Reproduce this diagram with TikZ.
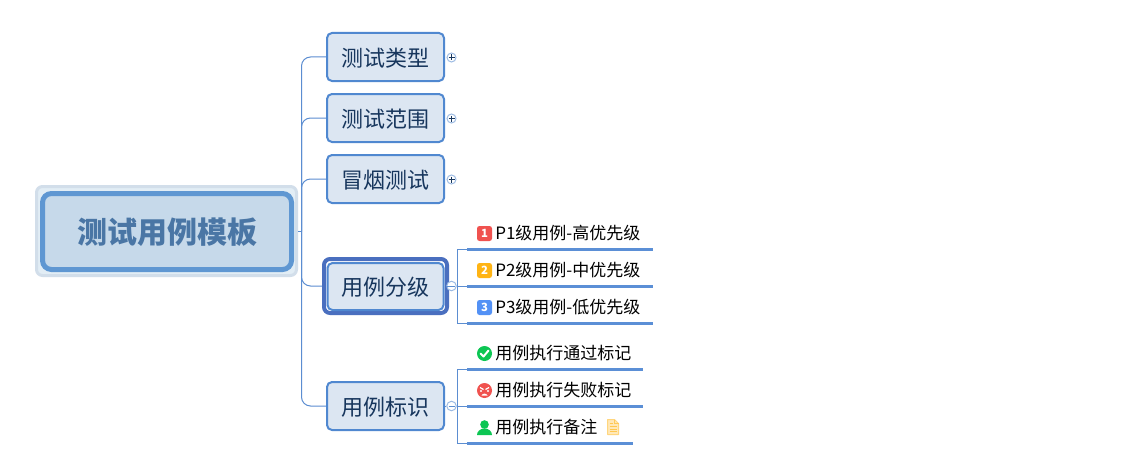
\documentclass[tikz,border=0pt]{standalone}
\usepackage{fontspec}
\setmainfont{Noto Sans CJK SC}
\def\pxu{0.75pt}
\newcommand{\lowtext}[1]{\raisebox{0pt}[\dimexpr\height+1.5pt\relax][\depth]{#1}}
\definecolor{topicfill}{HTML}{DCE6F2}
\definecolor{topicline}{HTML}{5088D0}
\definecolor{topictext}{HTML}{17365D}
\definecolor{rootfill}{HTML}{C6D9EA}
\definecolor{rootline}{HTML}{5F97D2}
\definecolor{roottext}{HTML}{4A76A5}
\definecolor{halofill}{HTML}{E2EDF5}
\definecolor{haloline}{HTML}{D2DEEA}
\definecolor{conn}{HTML}{5B8DD1}
\definecolor{selline}{HTML}{4A6FBF}
\definecolor{rulecol}{HTML}{5B8FD6}
\definecolor{btn}{HTML}{9DBBE3}
\definecolor{red1}{HTML}{F0524F}
\definecolor{amber}{HTML}{FFB414}
\definecolor{blue1}{HTML}{5391F5}
\definecolor{green1}{HTML}{0CC653}
\usetikzlibrary{calc}
\tikzset{
  x=0.75pt,y=-0.75pt,
  topic/.style={draw=topicline,fill=topicfill,line width=2*\pxu,rounded corners=5*\pxu,
    minimum width=117*\pxu,minimum height=48*\pxu,inner sep=0pt,text=topictext,
    font=\fontsize{16.5pt}{18pt}\selectfont},
  connector/.style={draw=conn,line width=1*\pxu},
  elbow/.style={connector,rounded corners=9*\pxu},
  subtext/.style={anchor=west,inner sep=0pt,text=black,font=\fontsize{12.75pt}{14pt}\selectfont},
  rulebar/.style={fill=rulecol,inner sep=0pt,minimum height=3*\pxu,anchor=west},
  plusbtn/.style={circle,draw=btn,fill=white,line width=1*\pxu,minimum size=9*\pxu,inner sep=0pt,
    path picture={\draw[topictext,line width=0.8*\pxu]
      ($(path picture bounding box.center)+(-3,0)$)--($(path picture bounding box.center)+(3,0)$)
      ($(path picture bounding box.center)+(0,-3)$)--($(path picture bounding box.center)+(0,3)$);}},
  minusbtn/.style={circle,draw=btn,fill=white,line width=1*\pxu,minimum size=9.5*\pxu,inner sep=0pt,
    path picture={\draw[conn,line width=0.8*\pxu]
      ($(path picture bounding box.center)+(-3,0)$)--($(path picture bounding box.center)+(3,0)$);}},
  numbadge/.style={rounded corners=2.5*\pxu,minimum size=15*\pxu,inner sep=0pt,text=white,
    font=\fontsize{8.5pt}{9pt}\selectfont\bfseries},
  icondisc/.style={circle,minimum size=15*\pxu,inner sep=0pt},
}
\begin{document}
\begin{tikzpicture}
\useasboundingbox (0,0) rectangle (1126,467);
\fill[white] (0,0) rectangle (1126,467);
% root
\node[draw=haloline,fill=halofill,line width=3*\pxu,rounded corners=6*\pxu,minimum width=260*\pxu,minimum height=89*\pxu,inner sep=0pt] (halo) at (166.5,231) {};
\node[draw=rootline,fill=rootfill,line width=5*\pxu,rounded corners=9*\pxu,minimum width=249*\pxu,minimum height=76*\pxu,inner sep=0pt,text=roottext,font=\fontsize{22.5pt}{24pt}\selectfont\bfseries] (root) at (167,231.5) {\lowtext{测试用例模板}};
% topics
\node[topic] (t1) at (385.5,57) {\lowtext{测试类型}};
\node[topic] (t2) at (385.5,118) {\lowtext{测试范围}};
\node[topic] (t3) at (385.5,179) {\lowtext{冒烟测试}};
\node[draw=selline,fill=white,line width=4*\pxu,rounded corners=6*\pxu,minimum width=123*\pxu,minimum height=54*\pxu,inner sep=0pt] (t4sel) at (385.5,286) {};
\node[topic,minimum width=116*\pxu,minimum height=47*\pxu] (t4) at (385.5,286.5) {\lowtext{用例分级}};
\node[topic] (t5) at (385.5,406) {\lowtext{用例标识}};
% trunk
\coordinate (hub) at (301.5,231);
\draw[connector] (halo.east) -- (hub);
\draw[elbow] (hub) |- (t1.west);
\draw[elbow] (hub) |- (t2.west);
\draw[elbow] (hub) |- (t3.west);
\draw[elbow] (hub) |- (t4sel.west);
\draw[elbow] (hub) |- (t5.west);
% collapse buttons
\node[plusbtn] (p1) at (451.5,57.5) {};
\node[plusbtn] (p2) at (451.5,118.5) {};
\node[plusbtn] (p3) at (451.5,179.5) {};
% group 1
\node[rulebar,minimum width=186*\pxu] (u1) at (467,249) {};
\node[rulebar,minimum width=186*\pxu] (u2) at (467,286) {};
\node[rulebar,minimum width=186*\pxu] (u3) at (467,323) {};
\node[minusbtn] (m4) at (451.5,286) {};
\coordinate (hub4) at (457.5,286);
\draw[connector] (t4sel.east) -- (m4.west);
\draw[connector] (m4.east) -- (u2.west);
\draw[connector] (hub4) |- (u1.west);
\draw[connector] (hub4) |- (u3.west);
\node[numbadge,fill=red1] (n1) at (484.5,233.5) {1};
\node[numbadge,fill=amber] (n2) at (484.5,270.5) {2};
\node[numbadge,fill=blue1] (n3) at (484.5,307.5) {3};
\node[subtext] (s1) at (495,233.5) {P1级用例-高优先级};
\node[subtext] (s2) at (495,270.5) {P2级用例-中优先级};
\node[subtext] (s3) at (495,307.5) {P3级用例-低优先级};
% group 2
\node[rulebar,minimum width=176*\pxu] (v1) at (467,369) {};
\node[rulebar,minimum width=176*\pxu] (v2) at (467,406) {};
\node[rulebar,minimum width=166*\pxu] (v3) at (467,443) {};
\node[minusbtn] (m5) at (451.5,406) {};
\coordinate (hub5) at (457.5,406);
\draw[connector] (t5.east) -- (m5.west);
\draw[connector] (m5.east) -- (v2.west);
\draw[connector] (hub5) |- (v1.west);
\draw[connector] (hub5) |- (v3.west);
\node[subtext] (s4) at (495,353.5) {用例执行通过标记};
\node[subtext] (s5) at (495,390.5) {用例执行失败标记};
\node[subtext] (s6) at (495,427.5) {用例执行备注};
% check icon
\node[icondisc,fill=green1] (i1) at (484.5,353.5) {};
\draw[white,line width=2*\pxu,line cap=round,line join=round] (480.5,353.5) -- (483.5,356.5) -- (488.5,350.5);
% angry icon
\node[icondisc,fill=red1] (i2) at (484.5,390.5) {};
\draw[white,line width=1.2*\pxu] (480,387.5) -- (483.5,389.5) (489,387.5) -- (485.5,389.5);
\fill[white] (481,391) circle[radius=1.1*\pxu] (488,391) circle[radius=1.1*\pxu];
\fill[white] (481.5,395.5) .. controls (482.5,393) and (486.5,393) .. (487.5,395.5) -- cycle;
% person icon
\fill[green1] (484.5,424.5) circle[radius=4.3*\pxu];
\fill[green1] (477,435) .. controls (477,430.5) and (481,429.5) .. (482.5,428.5) -- (486.5,428.5) .. controls (488,429.5) and (492,430.5) .. (492,435) -- cycle;
% note icon
\draw[fill=amber!30,draw=amber!55,line width=1*\pxu,line join=round] (607.5,419.5) -- (614.5,419.5) -- (618.5,423.5) -- (618.5,434.5) -- (607.5,434.5) -- cycle;
\draw[amber!70,line width=1*\pxu] (614.5,419.5) -- (614.5,423.5) -- (618.5,423.5);
\draw[amber!75,line width=1*\pxu] (609.5,423.5) -- (612.5,423.5) (609.5,426.5) -- (616.5,426.5) (609.5,429) -- (616.5,429) (609.5,431.5) -- (616.5,431.5);
\end{tikzpicture}
\end{document}
